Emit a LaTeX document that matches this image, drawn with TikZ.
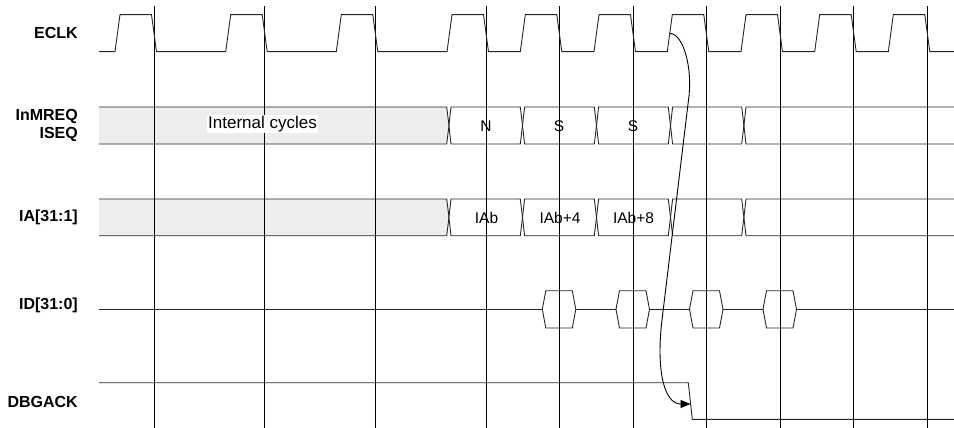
\documentclass[tikz,border=0pt]{standalone}
\usepackage{fontspec}
\setmainfont{Liberation Sans}
\usetikzlibrary{arrows.meta}

% one bus row: #1 top, #2 bottom
\newcommand{\busrow}[2]{%
  \pgfmathsetmacro{\bmid}{(#1+#2)/2}
  \fill[busfill] (99,#1) -- (446.7,#1) -- (449,\bmid) -- (446.7,#2) -- (99,#2) -- cycle;
  \draw[sig] (99,#1) -- (446.7,#1) -- (449,\bmid) -- (446.7,#2) -- (99,#2);
  \foreach \a/\b in {446.7/520.3, 520.3/594.3, 594.3/668.3, 668.3/741.7}
    \draw[sig] ({\a+4.3},#1) -- (\b,#1) -- ({\b+2.2},\bmid) -- (\b,#2) -- ({\a+4.3},#2) -- ({\a+2.2},\bmid) -- cycle;
  \draw[sig] (954,#1) -- (746,#1) -- (743.9,\bmid) -- (746,#2) -- (954,#2);
}

\begin{document}
\begin{tikzpicture}[x=1pt, y=-1pt,
    sig/.style={draw=black!85, line width=0.9pt},
    gridline/.style={draw=black, line width=0.9pt},
    busfill/.style={fill=black!7},
    lbl/.style={anchor=east, align=right, inner sep=0pt, font=\bfseries\fontsize{16}{18.3}\selectfont},
    val/.style={inner sep=1pt, font=\fontsize{15.5}{18}\selectfont},
    arrow/.style={-{Triangle[length=10pt, width=8pt]}, line width=0.9pt}
  ]
\useasboundingbox (0,0) rectangle (954,428);

% buses
\busrow{107}{144}
\busrow{199}{235.7}

% clock edges
\foreach \v in {154,264.7,375.3,486,559.3,633,706.3,780,853.7,927.3}
  \draw[gridline] (\v,6) -- (\v,428);

% ECLK
\draw[sig] (99,51.7) \foreach \v in {154,264.7,375.3,486,559.3,633,706.3,780,853.7,927.3}
  { -- ({\v-39},51.7) -- ({\v-34},14.7) -- ({\v-2.5},14.7) -- ({\v+2.5},51.7) } -- (954,51.7);

% ID
\draw[sig] (99,309.3) \foreach \c in {559.3,633,706.5,780}
  { -- ({\c-17},309.3) ({\c+16.5},309.3) } -- (954,309.3);
\foreach \c in {559.3,633,706.5,780}
  \draw[sig] ({\c-17},309.3) -- ({\c-13.5},290.7) -- ({\c+13},290.7) -- ({\c+16.5},309.3)
    -- ({\c+13},328) -- ({\c-13.5},328) -- cycle;

% DBGACK
\draw[sig] (99,382.7) -- (688.3,382.7) -- (692.3,419.3) -- (954,419.3);

% labels
\node[lbl] (eclk) at (78,33.3) {ECLK};
\node[lbl] (mreq) at (78,125.8) {InMREQ\\ISEQ};
\node[lbl] (ia) at (78,217.7) {IA[31:1]};
\node[lbl] (id) at (78,305) {ID[31:0]};
\node[lbl] (ack) at (78,401.7) {DBGACK};

\node[val, fill=white, inner sep=1.5pt, font=\fontsize{17}{20}\selectfont] (internal) at (262.5,124) {Internal cycles};
\node[val] (n) at (486,126) {N};
\node[val] (s1) at (559,126) {S};
\node[val] (s2) at (633,126) {S};
\node[val] (iab) at (486.5,217.7) {IAb};
\node[val] (iab4) at (560,217.7) {IAb+4};
\node[val] (iab8) at (633.5,217.7) {IAb+8};

% debug entry
\coordinate (eclkrise) at (669.8,33.3);
\coordinate (ackfall) at (690.5,404);
\draw[arrow] (eclkrise) .. controls (684,34) and (693,70) .. (688.5,100) -- (662,320)
  .. controls (656,370) and (664,404) .. (ackfall);

\end{tikzpicture}
\end{document}
